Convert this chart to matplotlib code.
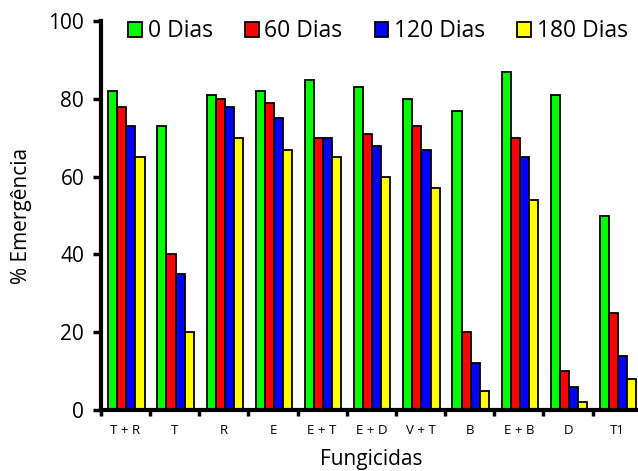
import matplotlib
matplotlib.use("Agg")
import matplotlib.pyplot as plt
import numpy as np

# data
fungicidas = ["T + R", "T", "R", "E", "E + T", "E + D", "V + T", "B", "E + B", "D", "T1"]
dias_0 = [82, 73, 81, 82, 85, 83, 80, 77, 87, 81, 50]
dias_60 = [78, 40, 80, 79, 70, 71, 73, 20, 70, 10, 25]
dias_120 = [73, 35, 78, 75, 70, 68, 67, 12, 65, 6, 14]
dias_180 = [65, 20, 70, 67, 65, 60, 57, 5, 54, 2, 8]
series_labels = ["0 Dias", "60 Dias", "120 Dias", "180 Dias"]
colors = ["#00ff00", "#ff0000", "#0000ff", "#ffff00"]

plt.rcParams['font.family'] = ['Open Sans', 'DejaVu Sans']

fig = plt.figure(figsize=(6.38, 4.71), dpi=100)
ax = fig.add_axes([0.158, 0.1295, 0.848, 0.8255])

x = np.arange(len(fungicidas))
width = 0.185
series = [dias_0, dias_60, dias_120, dias_180]
for i, (vals, lab, col) in enumerate(zip(series, series_labels, colors)):
    ax.bar(x + (i - 1.5) * width + 0.02, vals, width, color=col,
           edgecolor="black", linewidth=1.3, label=lab)

ax.set_xlim(-0.5, len(fungicidas) - 0.5)
ax.set_ylim(0, 100)
ax.set_yticks([0, 20, 40, 60, 80, 100])
ax.tick_params(axis='y', labelsize=15, width=2.5, length=6, direction='out', pad=6)

ax.set_xticks(x)
ax.set_xticklabels(fungicidas, fontsize=9.5)
ax.tick_params(axis='x', length=0, pad=10)
ax.set_xticks(np.arange(-0.5, len(fungicidas), 1), minor=True)
ax.tick_params(axis='x', which='minor', length=4, width=2.5, direction='out')

for s in ["top", "right"]:
    ax.spines[s].set_visible(False)
ax.spines["left"].set_linewidth(3)
ax.spines["bottom"].set_linewidth(3)

ax.set_ylabel("% Emergência", fontsize=15, labelpad=12)
ax.set_xlabel("Fungicidas", fontsize=15, labelpad=9)

fig.legend(loc="upper left", bbox_to_anchor=(0.176, 0.993), ncol=4, frameon=False,
           fontsize=16.5, handlelength=0.6, handleheight=0.6, handletextpad=0.25,
           columnspacing=1.4, borderpad=0.2)

fig.savefig("out.png", dpi=100)
